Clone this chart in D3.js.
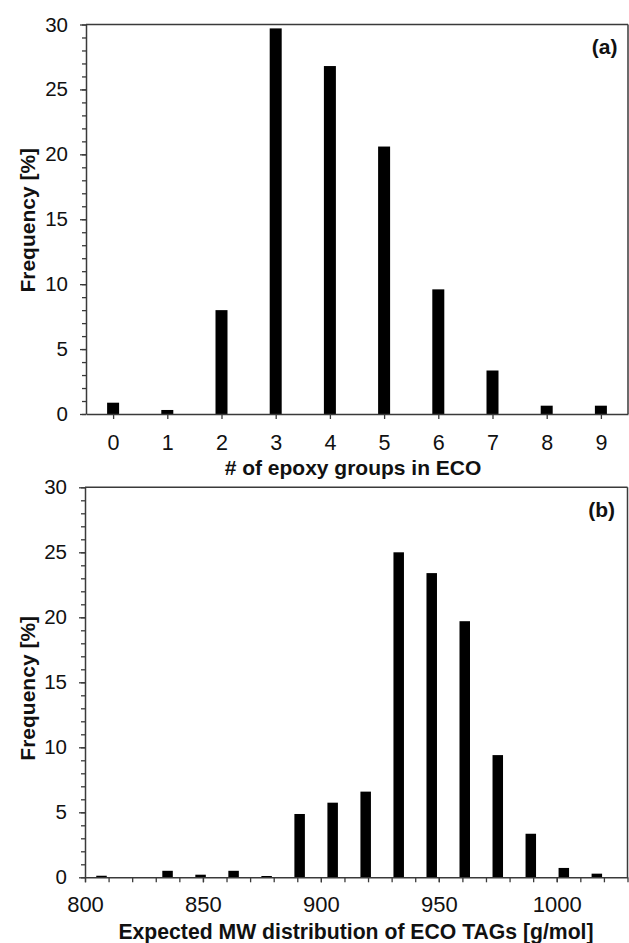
<!DOCTYPE html>
<html><head><meta charset="utf-8">
<script src="https://cdn.jsdelivr.net/npm/d3@7"></script>
<style>
html,body{margin:0;padding:0;background:#fff;}
svg text{font-family:"Liberation Sans",Arial,sans-serif;fill:#111;}
</style></head>
<body><svg id="chart" width="629" height="943"></svg>
<script>
// Panel (a): number of epoxy groups in ECO
const epoxyGroups = [0,1,2,3,4,5,6,7,8,9];
const epoxyFreq   = [0.87,0.31,8.0,29.7,26.8,20.6,9.6,3.35,0.64,0.64];
// Panel (b): expected MW distribution of ECO TAGs
const mwValues = [807,835,849,863,877,891,905,919,933,947,961,975,989,1003,1017];
const mwFreq   = [0.12,0.5,0.2,0.5,0.1,4.87,5.74,6.59,25.0,23.4,19.7,9.4,3.35,0.72,0.28];
// Tick labels
const yTicks = [0,5,10,15,20,25,30];
const yMinor = d3.range(0,31,1);
const mwTicks = [800,850,900,950,1000];
const mwMinor = d3.range(800,1031,10);

const svg = d3.select("#chart");
const frameColor = "#3a3a3a";

function panel(cfg){
  const g = svg.append("g");
  const {x, y} = cfg;
  const [x0,x1] = x.range();
  const [yb,yt] = y.range();
  // bars
  g.selectAll("rect.bar").data(cfg.cats.map((c,i)=>({c,v:cfg.vals[i]})))
    .enter().append("rect")
    .attr("x", d=>x(d.c)-cfg.barW/2)
    .attr("width", cfg.barW)
    .attr("y", d=>y(d.v))
    .attr("height", d=>y(0)-y(d.v))
    .attr("fill","#000");
  // frame top and right
  g.append("line").attr("x1",x0).attr("x2",x1).attr("y1",yt).attr("y2",yt)
    .attr("stroke",frameColor).attr("stroke-width",1.5);
  g.append("line").attr("x1",x1).attr("x2",x1).attr("y1",yt).attr("y2",yb)
    .attr("stroke",frameColor).attr("stroke-width",1.5);
  // y axis minor
  const yMin = g.append("g").attr("transform",`translate(${x0},0)`)
    .call(d3.axisLeft(y).tickValues(yMinor).tickSize(4).tickFormat(""));
  yMin.select(".domain").remove();
  // y axis major
  const yAx = g.append("g").attr("transform",`translate(${x0},0)`)
    .call(d3.axisLeft(y).tickValues(yTicks).tickSize(6).tickSizeOuter(0).tickPadding(12));
  yAx.selectAll("text").attr("font-size",20.5);
  g.selectAll(".tick line").attr("stroke",frameColor).attr("stroke-width",1.3);
  yAx.select(".domain").attr("stroke",frameColor).attr("stroke-width",1.5);
  // x axis
  if (cfg.xMinor){
    const xm = g.append("g").attr("transform",`translate(0,${yb})`)
      .call(d3.axisBottom(x).tickValues(cfg.xMinor).tickSize(5).tickFormat(""));
    xm.select(".domain").remove();
    xm.selectAll("line").attr("stroke",frameColor).attr("stroke-width",1.3);
  }
  const xAx = g.append("g").attr("transform",`translate(0,${yb})`)
    .call(d3.axisBottom(x).tickValues(cfg.xTicks).tickSize(5).tickSizeOuter(0)
      .tickPadding(cfg.xPad).tickFormat(d3.format("d")));
  xAx.selectAll("text").attr("font-size",cfg.xFont);
  xAx.selectAll("line").attr("stroke",frameColor).attr("stroke-width",1.3);
  xAx.select(".domain").attr("stroke",frameColor).attr("stroke-width",1.5);
  // titles
  g.append("text").attr("x",cfg.xTitleX).attr("y",cfg.xTitleY).attr("text-anchor","middle")
    .attr("font-weight","bold").attr("font-size",cfg.xTitleFont).text(cfg.xTitle);
  g.append("text").attr("transform",`translate(35,${(yb+yt)/2 + cfg.yTitleDy}) rotate(-90)`)
    .attr("text-anchor","middle").attr("font-weight","bold").attr("font-size",21)
    .text("Frequency [%]");
  g.append("text").attr("x",x1-cfg.tagDx).attr("y",yt+cfg.tagDy).attr("text-anchor","end")
    .attr("font-weight","bold").attr("font-size",21).text(cfg.tag);
}

panel({
  x: d3.scaleLinear().domain([-0.5,9.5]).range([86,628]),
  y: d3.scaleLinear().domain([0,30]).range([414,24.5]),
  cats: epoxyGroups, vals: epoxyFreq, barW: 12,
  xTicks: epoxyGroups, xMinor: null, xFont: 21.5, xPad: 16,
  xTitle: "# of epoxy groups in ECO", xTitleX: 353, xTitleY: 475, xTitleFont: 21,
  yTitleDy: 1, tag: "(a)", tagDx: 10.5, tagDy: 29
});
panel({
  x: d3.scaleLinear().domain([800,1030]).range([85,627.5]),
  y: d3.scaleLinear().domain([0,30]).range([877.3,487.3]),
  cats: mwValues, vals: mwFreq, barW: 10.5,
  xTicks: mwTicks, xMinor: mwMinor, xFont: 22, xPad: 14,
  xTitle: "Expected MW distribution of ECO TAGs [g/mol]", xTitleX: 356, xTitleY: 939, xTitleFont: 21.2,
  yTitleDy: 6, tag: "(b)", tagDx: 12.5, tagDy: 30
});
</script></body></html>
